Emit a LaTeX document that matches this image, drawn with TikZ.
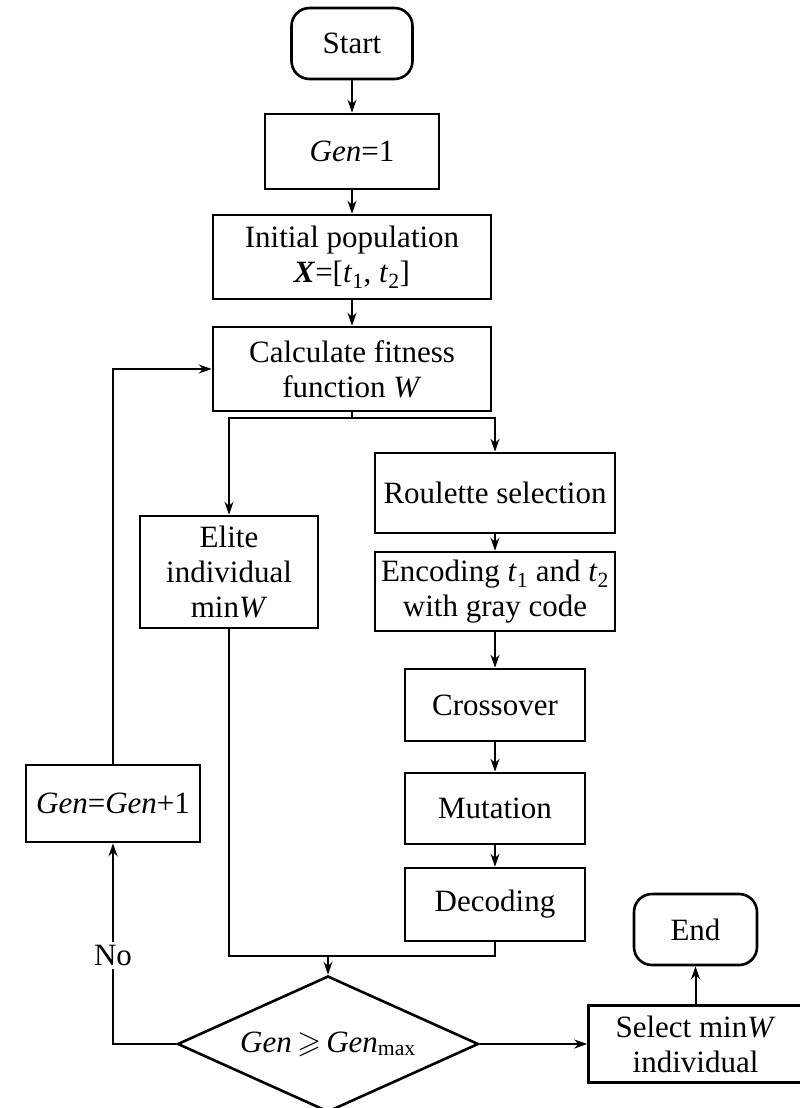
\documentclass[tikz,border=0pt]{standalone}
\usepackage{amssymb}
\usepackage{fontspec}
\setmainfont{Liberation Serif}
\usetikzlibrary{arrows.meta,shapes.geometric}
\begin{document}
\begin{tikzpicture}[x=1pt,y=-1pt,
  every node/.style={font=\fontsize{31}{35}\selectfont},
  box/.style={draw,line width=2.6pt,align=center,inner sep=0pt},
  term/.style={box,rounded corners=18pt},
  dec/.style={draw,line width=2.6pt,diamond,aspect=2.2,inner sep=0pt},
  arr/.style={line width=2pt,-{Stealth[length=13pt,width=9pt]}},
  ln/.style={line width=2pt}]
\useasboundingbox (0,0) rectangle (800,1108);
\node[term,minimum width=121pt,minimum height=71pt] (start) at (352,43.5) {Start};
\node[box,minimum width=174pt,minimum height=75pt] (gen1) at (352,151.5) {\textit{Gen}=1};
\node[box,minimum width=278pt,minimum height=84pt] (init) at (352,257) {Initial population\\\textbf{\textit{X}}=[\textit{t}\textsubscript{1}, \textit{t}\textsubscript{2}]};
\node[box,minimum width=278pt,minimum height=84pt] (calc) at (352,369) {Calculate fitness\\function \textit{W}};
\node[box,minimum width=240pt,minimum height=80pt] (roul) at (495,493) {Roulette selection};
\node[box,minimum width=240pt,minimum height=79pt] (enc) at (495,591.5) {Encoding \textit{t}\textsubscript{1} and \textit{t}\textsubscript{2}\\with gray code};
\node[box,minimum width=178pt,minimum height=112pt] (elite) at (229,572) {Elite\\individual\\min\textit{W}};
\node[box,minimum width=180pt,minimum height=72pt] (cross) at (495,705) {Crossover};
\node[box,minimum width=180pt,minimum height=71pt] (mut) at (495,808.5) {Mutation};
\node[box,minimum width=180pt,minimum height=73pt] (deco) at (495,904.5) {Decoding};
\node[box,minimum width=174pt,minimum height=77pt] (genp) at (113,803.5) {\textit{Gen}=\textit{Gen}+1};
\node[term,minimum width=123pt,minimum height=71pt] (end) at (695.5,929.5) {End};
\node[box,minimum width=214pt,minimum height=77pt] (sel) at (695.5,1044) {Select min\textit{W}\\individual};
\node[dec,minimum width=301pt,minimum height=136pt] (cond) at (328,1044) {\textit{Gen}\,$\geqslant$\,\textit{Gen}\textsubscript{max}};
\coordinate (br) at (352,418);
\coordinate (mg) at (328,956);
\draw[arr] (start) -- (gen1);
\draw[arr] (gen1) -- (init);
\draw[arr] (init) -- (calc);
\draw[ln] (calc.south) -- (br);
\draw[arr] (br) -| (elite.north);
\draw[arr] (br) -| (roul.north);
\draw[arr] (roul) -- (enc);
\draw[arr] (enc) -- (cross);
\draw[arr] (cross) -- (mut);
\draw[arr] (mut) -- (deco);
\draw[ln] (elite.south) |- (mg) -| (deco.south);
\draw[arr] (mg) -- (cond.north);
\draw[arr] (cond.west) -| node[pos=0.72,fill=white,inner sep=3pt] (no) {No} (genp.south);
\draw[arr] (genp.north) |- (calc.west);
\draw[arr] (cond.east) -- (sel.west);
\draw[arr] (sel.north) -- (end.south);
\end{tikzpicture}
\end{document}
